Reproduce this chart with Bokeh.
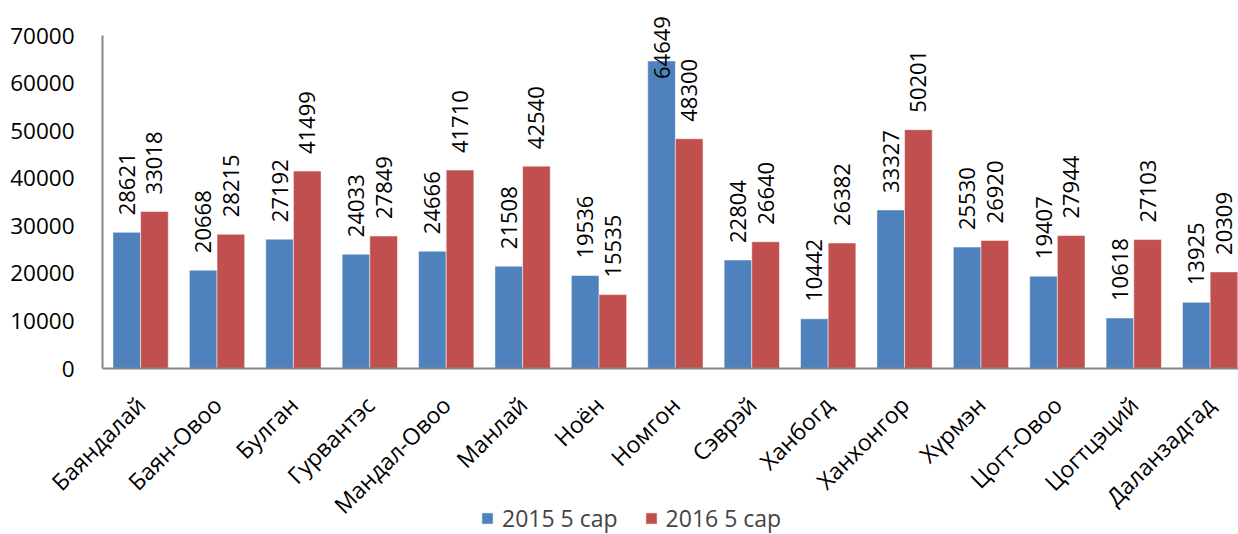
import numpy as np
from math import pi
from bokeh.plotting import figure
from bokeh.core.properties import value
from bokeh.models import (ColumnDataSource, LabelSet, Legend, LegendItem, FixedTicker,
                          NumeralTickFormatter, Range1d, LinearAxis)
from bokeh.embed import file_html
from bokeh.resources import INLINE

categories = ["Баяндалай", "Баян-Овоо", "Булган", "Гурвантэс", "Мандал-Овоо", "Манлай", "Ноён",
              "Номгон", "Сэврэй", "Ханбогд", "Ханхонгор", "Хүрмэн", "Цогт-Овоо", "Цогтцэций",
              "Даланзадгад"]
values_2015 = [28621, 20668, 27192, 24033, 24666, 21508, 19536, 64649, 22804, 10442, 33327,
               25530, 19407, 10618, 13925]
values_2016 = [33018, 28215, 41499, 27849, 41710, 42540, 15535, 48300, 26640, 26382, 50201,
               26920, 27944, 27103, 20309]
series_names = ["2015 5 сар", "2016 5 сар"]
y_ticks = [0, 10000, 20000, 30000, 40000, 50000, 60000, 70000]

BLUE = "#4F81BD"
RED = "#C0504D"
FONT = "Open Sans"
Y_MAX = 70000

W, H = 1238, 534
TOP, LEFT = 35, 102     # page position of the plot area's top-left corner
ZERO_PX = 368           # page y of the zero line
X_END = 14.87           # visible category units to the right of the y axis

ppy = (ZERO_PX - TOP) / Y_MAX
y_start = -(H - ZERO_PX) / ppy
y_end = Y_MAX + TOP / ppy
ppx = (W - LEFT) / X_END
x_start = -LEFT / ppx

n = len(categories)
idx = np.arange(n)
bar_w = 0.362
off1 = 0.137 + bar_w / 2
off2 = off1 + bar_w

p = figure(width=W, height=H, output_backend="svg", toolbar_location=None,
           x_range=Range1d(x_start, X_END), y_range=Range1d(y_start, y_end),
           x_axis_location=None, y_axis_location=None,
           min_border_left=0, min_border_top=0, min_border_bottom=0, min_border_right=0)
p.outline_line_color = None
p.xgrid.grid_line_color = None
p.ygrid.grid_line_color = None
p.background_fill_color = "white"
p.border_fill_color = "white"


def label_offsets(vals):
    return [17 if v + 17000 <= Y_MAX else -18 for v in vals]


s1 = ColumnDataSource(dict(x=idx + off1, top=values_2015,
                           txt=[str(v) for v in values_2015], yo=label_offsets(values_2015)))
s2 = ColumnDataSource(dict(x=idx + off2, top=values_2016,
                           txt=[str(v) for v in values_2016], yo=label_offsets(values_2016)))

r1 = p.vbar(x="x", top="top", width=bar_w, source=s1, fill_color=BLUE,
            line_color="white", line_alpha=0.5, line_width=1)
r2 = p.vbar(x="x", top="top", width=bar_w, source=s2, fill_color=RED,
            line_color="white", line_alpha=0.5, line_width=1)

for src in (s1, s2):
    lbl = LabelSet(x="x", y="top", text="txt", source=src, angle=pi / 2,
                   text_align="left", text_baseline="middle", y_offset="yo",
                   text_font=value(FONT), text_font_size=value("22px"),
                   text_color="black")
    p.add_layout(lbl)

# x axis, fixed at zero
xaxis = LinearAxis(fixed_location=0, bounds=(0, X_END))
xaxis.ticker = FixedTicker(ticks=[float(i) + 0.5 for i in idx])
xaxis.major_label_overrides = {float(i) + 0.5: c for i, c in zip(idx, categories)}
xaxis.major_label_orientation = pi / 4
xaxis.major_label_text_font = FONT
xaxis.major_label_text_font_size = "23px"
xaxis.major_label_text_color = "black"
xaxis.major_label_standoff = 26
xaxis.major_tick_line_color = None
xaxis.minor_tick_line_color = None
xaxis.axis_line_color = "#868686"
xaxis.axis_line_width = 2
p.add_layout(xaxis, "below")

# y axis, fixed at x = 0
yaxis = LinearAxis(fixed_location=0, bounds=(0, Y_MAX))
yaxis.ticker = FixedTicker(ticks=y_ticks)
yaxis.formatter = NumeralTickFormatter(format="0")
yaxis.major_label_text_font = FONT
yaxis.major_label_text_font_size = "22.5px"
yaxis.major_label_text_color = "black"
yaxis.major_label_standoff = 22
yaxis.major_tick_line_color = None
yaxis.minor_tick_line_color = None
yaxis.axis_line_color = "#868686"
yaxis.axis_line_width = 2
p.add_layout(yaxis, "left")

legend = Legend(items=[LegendItem(label=series_names[0], renderers=[r1]),
                       LegendItem(label=series_names[1], renderers=[r2])],
                orientation="horizontal", location=(LEFT + 378, 0),
                label_text_font=FONT, label_text_font_size="23px",
                glyph_width=14, glyph_height=14, label_standoff=8, spacing=26,
                padding=0, margin=0, border_line_color=None, background_fill_alpha=0)
p.add_layout(legend, "center")

open("out.html", "w").write(file_html(p, INLINE))
